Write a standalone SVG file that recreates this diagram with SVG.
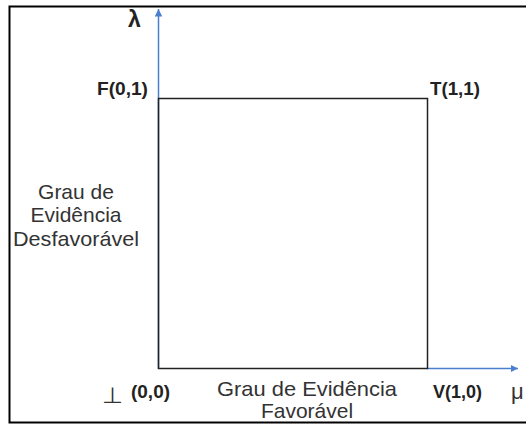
<svg xmlns="http://www.w3.org/2000/svg" width="526" height="425" viewBox="0 0 526 425">
<style>
.lbl{font-family:"Liberation Sans",Arial,sans-serif;font-size:21px;fill:#333}
.b{font-family:"Liberation Sans",Arial,sans-serif;font-size:18px;font-weight:bold;fill:#222}
.ax{stroke:#4a7fd0;stroke-width:1.5;fill:none}
</style>
<defs>
<marker id="ah" viewBox="0 0 10 10" refX="10" refY="5" markerWidth="5" markerHeight="5" markerUnits="strokeWidth" orient="auto">
<path d="M0,0 L10,5 L0,10 z" fill="#4a7fd0"/>
</marker>
</defs>
<rect x="9.5" y="6.5" width="530" height="416" fill="#fff" stroke="#000" stroke-width="2"/>
<g id="connectors">
<line class="ax" x1="158.5" y1="368.5" x2="158.5" y2="9" marker-end="url(#ah)"/>
<line class="ax" x1="427.5" y1="368.5" x2="518" y2="368.5" marker-end="url(#ah)"/>
</g>
<g id="square">
<rect x="158.5" y="98.5" width="269" height="270" fill="none" stroke="#222" stroke-width="1.5"/>
</g>
<g id="lambda"><text class="b" x="128" y="27" style="font-size:23px">λ</text></g>
<g id="F"><text class="b" x="97" y="95" textLength="51" lengthAdjust="spacingAndGlyphs">F(0,1)</text></g>
<g id="T"><text class="b" x="430" y="95" textLength="50" lengthAdjust="spacingAndGlyphs">T(1,1)</text></g>
<g id="V"><text class="b" x="433" y="398" textLength="49" lengthAdjust="spacingAndGlyphs">V(1,0)</text></g>
<g id="origin">
<text x="102" y="403" font-family="DejaVu Sans,sans-serif" font-size="22" fill="#333" textLength="21" lengthAdjust="spacingAndGlyphs">⊥</text>
<text class="b" x="131" y="398" textLength="39" lengthAdjust="spacingAndGlyphs">(0,0)</text>
</g>
<g id="mu"><text class="lbl" x="511" y="399" style="font-size:22px">μ</text></g>
<g id="ylabel">
<text class="lbl" x="76" y="199" text-anchor="middle">Grau de</text>
<text class="lbl" x="76" y="222" text-anchor="middle">Evidência</text>
<text class="lbl" x="76" y="246" text-anchor="middle" textLength="126" lengthAdjust="spacingAndGlyphs">Desfavorável</text>
</g>
<g id="xlabel">
<text class="lbl" x="307" y="396" text-anchor="middle" textLength="180" lengthAdjust="spacingAndGlyphs">Grau de Evidência</text>
<text class="lbl" x="307" y="418" text-anchor="middle">Favorável</text>
</g>
</svg>
